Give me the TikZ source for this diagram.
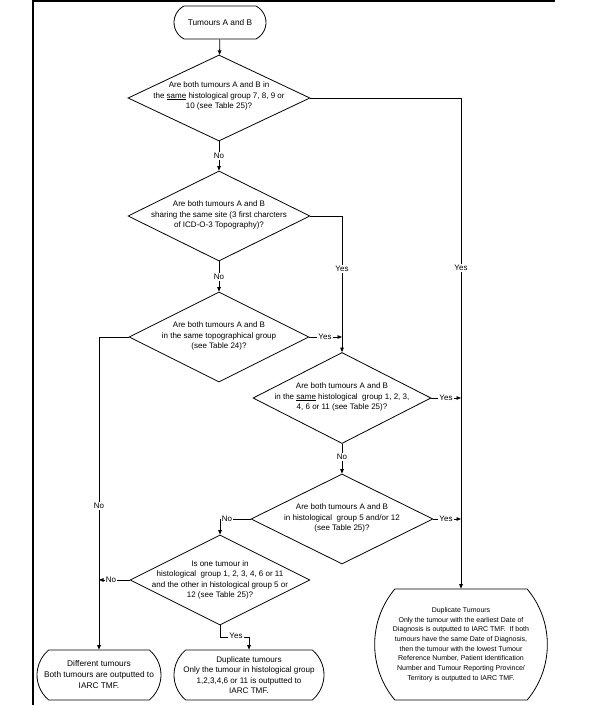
\documentclass[tikz,border=0pt]{standalone}
\usepackage{fontspec}
\setmainfont{Liberation Sans}
\usetikzlibrary{shapes.geometric,shapes.misc,arrows.meta,calc}
\begin{document}
\begin{tikzpicture}[x=1pt,y=-1pt,
  lw/.style={line width=0.8pt},
  txt/.style={font=\fontsize{8}{10.3}\selectfont, align=center, inner sep=0pt},
  ttxt/.style={font=\fontsize{8.3}{11}\selectfont, align=center, inner sep=0pt},
  dia/.style={draw, lw, diamond, inner sep=0pt},
  term/.style={draw, lw, rounded rectangle, inner sep=0pt},
  lbl/.style={fill=white, inner sep=1pt, font=\fontsize{8}{9}\selectfont},
  arr/.style={lw, -{Triangle[length=4.5pt,width=3.6pt]}}]
\useasboundingbox (0,0) rectangle (590,705);
\draw[line width=1.5pt] (555,0.75) -- (33,0.75) -- (33,705);

% terminators
\node[term, minimum width=92pt, minimum height=33pt, rounded rectangle arc length=125] (start) at (220,22.5) {};
\node[ttxt] (startt) at (start.center) {Tumours A and B};
\node[term, minimum width=124pt, minimum height=50pt, rounded rectangle arc length=100] (t1) at (99,675) {};
\node[ttxt] (t1t) at (t1.center) {Different tumours\\Both tumours are outputted to\\IARC TMF.};
\node[term, minimum width=150pt, minimum height=50pt, rounded rectangle arc length=100] (t2) at (249,675) {};
\node[ttxt, font=\fontsize{8.1}{10.6}\selectfont] (t2t) at (t2.center) {Duplicate tumours\\Only the tumour in histological group\\1,2,3,4,6 or 11 is outputted to\\IARC TMF.};
\node[term, minimum width=169pt, minimum height=111pt, rounded rectangle arc length=80] (t3) at (461,644.5) {};
\node[txt, font=\fontsize{7}{9.7}\selectfont] (t3t) at (t3.center) {Duplicate Tumours\\Only the tumour with the earliest Date of\\Diagnosis is outputted to IARC TMF.\ \ If both\\tumours have the same Date of Diagnosis,\\then the tumour with the lowest Tumour\\Reference Number, Patient Identification\\Number and Tumour Reporting Province/\\Territory is outputted to IARC TMF.};

% decisions
\node[dia, minimum width=182pt, minimum height=86pt] (d1) at (219,98) {};
\node[txt] (d1t) at (219,96) {Are both tumours A and B in\\the \underline{same} histological group 7, 8, 9 or\\10 (see Table 25)?};
\node[dia, minimum width=182pt, minimum height=90pt] (d2) at (219,216) {};
\node[txt] (d2t) at (219,215) {Are both tumours A and B\\sharing the same site (3 first charcters\\of ICD-O-3 Topography)?};
\node[dia, minimum width=180pt, minimum height=90pt] (d3) at (219,337) {};
\node[txt] (d3t) at (219,336) {Are both tumours A and B\\in the same topographical group\\(see Table 24)?};
\node[dia, minimum width=178pt, minimum height=91pt] (d4) at (342,398) {};
\node[txt] (d4t) at (342,397) {Are both tumours A and B\\in the \underline{same} histological\ \ group 1, 2, 3,\\4, 6 or 11 (see Table 25)?};
\node[dia, minimum width=182pt, minimum height=90pt] (d5) at (342,519) {};
\node[txt] (d5t) at (342,518) {Are both tumours A and B\\in histological\ \ group 5 and/or 12\\(see Table 25)?};
\node[dia, minimum width=180pt, minimum height=90pt] (d6) at (220,580) {};
\node[txt] (d6t) at (220,580) {Is one tumour in\\histological\ \ group 1, 2, 3, 4, 6 or 11\\and the other in histological group 5 or\\12 (see Table 25)?};

% connectors
\draw[arr] (start) -- (d1);
\draw[arr] (d1.east) -| (t3.north);
\node[lbl] (y1) at (461,268) {Yes};
\draw[arr] (d1.south) -- (d2.north);
\node[lbl] (n1) at (219,156) {No};
\draw[arr] (d2.east) -| (d4.north);
\node[lbl] (y2) at (342,269) {Yes};
\draw[arr] (d2.south) -- (d3.north);
\node[lbl] (n2) at (219,277) {No};
\draw[arr] (d3.east) -- (d3.east -| d4.north);
\node[lbl] (y3) at (325,337) {Yes};
\draw[arr] (d3.west) -| (t1.north);
\node[lbl] (n3) at (99,506) {No};
\draw[arr] (d4.east) -- (d4.east -| t3.north);
\node[lbl] (y4) at (446,398) {Yes};
\draw[arr] (d4.south) -- (d5.north);
\node[lbl] (n4) at (342,457) {No};
\draw[arr] (d5.east) -- (d5.east -| t3.north);
\node[lbl] (y5) at (446,519) {Yes};
\draw[arr] (d5.west) -| (d6.north);
\node[lbl] (n5) at (227,519) {No};
\draw[arr] (d6.west) -- (d6.west -| t1.north);
\node[lbl] (n6) at (111,580) {No};
\coordinate (c6) at ($(d6.south)+(0,12)$);
\draw[arr] (d6.south) -- (c6) -| (t2.north);
\node[lbl] (y6) at (236,636) {Yes};
\end{tikzpicture}
\end{document}
